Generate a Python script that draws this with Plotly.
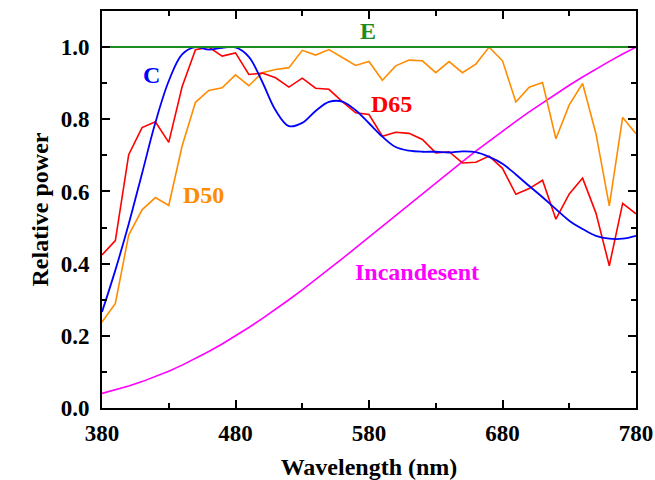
import plotly.graph_objects as go

wavelength = list(range(380, 781, 10))

d65 = [0.424, 0.464, 0.702, 0.777, 0.793, 0.736, 0.890, 0.993, 1.000, 0.975,
       0.984, 0.924, 0.928, 0.915, 0.889, 0.914, 0.886, 0.883, 0.849, 0.818,
       0.813, 0.753, 0.764, 0.761, 0.744, 0.707, 0.710, 0.679, 0.681, 0.698,
       0.664, 0.592, 0.608, 0.631, 0.523, 0.593, 0.637, 0.540, 0.394, 0.567,
       0.538]

d50 = [0.238, 0.290, 0.479, 0.549, 0.583, 0.561, 0.726, 0.847, 0.880, 0.887,
       0.923, 0.893, 0.929, 0.938, 0.943, 0.991, 0.978, 0.993, 0.971, 0.949,
       0.960, 0.908, 0.948, 0.964, 0.962, 0.929, 0.960, 0.929, 0.953, 1.000,
       0.962, 0.848, 0.889, 0.902, 0.746, 0.840, 0.899, 0.760, 0.560, 0.805,
       0.760]

illum_c = [0.266, 0.382, 0.510, 0.650, 0.791, 0.906, 0.980, 1.000, 0.993, 0.998,
           0.999, 0.973, 0.904, 0.825, 0.781, 0.790, 0.823, 0.848, 0.849, 0.825,
           0.789, 0.752, 0.723, 0.713, 0.710, 0.710, 0.708, 0.711, 0.709, 0.696,
           0.677, 0.647, 0.615, 0.584, 0.551, 0.519, 0.496, 0.477, 0.469, 0.469,
           0.477]

incandescent = [0.0405, 0.0500, 0.0609, 0.0731, 0.0869, 0.1021, 0.1188, 0.1369,
                0.1565, 0.1774, 0.1996, 0.2231, 0.2477, 0.2733, 0.3000, 0.3274,
                0.3556, 0.3845, 0.4138, 0.4435, 0.4735, 0.5037, 0.5340, 0.5642,
                0.5943, 0.6241, 0.6537, 0.6829, 0.7116, 0.7397, 0.7673, 0.7942,
                0.8204, 0.8458, 0.8704, 0.8943, 0.9172, 0.9393, 0.9605, 0.9807,
                1.0000]

illum_e = [1.0] * len(wavelength)

x_ticks = [380, 480, 580, 680, 780]
y_ticks = [0.0, 0.2, 0.4, 0.6, 0.8, 1.0]

FONT = "Liberation Serif"
GREEN = "#1E8C1E"
ORANGE = "#FF8C00"

fig = go.Figure()
fig.add_trace(go.Scatter(x=wavelength, y=incandescent, mode="lines",
                         line=dict(color="#FF00FF", width=1.6), name="Incandesent"))
fig.add_trace(go.Scatter(x=wavelength, y=d50, mode="lines",
                         line=dict(color=ORANGE, width=1.6), name="D50"))
fig.add_trace(go.Scatter(x=wavelength, y=d65, mode="lines",
                         line=dict(color="#FF0000", width=1.6), name="D65"))
fig.add_trace(go.Scatter(x=wavelength, y=illum_c, mode="lines",
                         line=dict(color="#0000FF", width=1.8, shape="spline", smoothing=1.0),
                         name="C"))
fig.add_trace(go.Scatter(x=wavelength, y=illum_e, mode="lines",
                         line=dict(color=GREEN, width=2), name="E"))

labels = [
    ("E", 579.5, 1.044, GREEN),
    ("C", 417, 0.922, "#0000FF"),
    ("D65", 597, 0.842, "#FF0000"),
    ("D50", 456, 0.590, ORANGE),
    ("Incandesent", 616, 0.377, "#FF00FF"),
]
for text, lx, ly, col in labels:
    fig.add_annotation(x=lx, y=ly, text=text, showarrow=False,
                       font=dict(family=FONT, size=24, color=col, weight="bold"))

axis_common = dict(
    showline=True, linecolor="black", linewidth=2, mirror="ticks",
    ticks="inside", ticklen=8, tickwidth=1.5, tickcolor="black",
    showgrid=False, zeroline=False, automargin=False,
    tickfont=dict(family=FONT, size=23, color="black", weight="bold"),
)

fig.update_layout(
    width=655, height=480,
    margin=dict(l=102, r=19, t=11, b=72),
    paper_bgcolor="white", plot_bgcolor="white",
    showlegend=False,
    xaxis=dict(range=[380, 780], tickvals=x_ticks, ticklabelstandoff=3,
               minor=dict(dtick=50, tick0=380, ticks="inside", ticklen=5, tickcolor="black", tickwidth=1.5),
               title=dict(text="Wavelength (nm)", standoff=18,
                          font=dict(family=FONT, size=24, color="black", weight="bold")),
               **axis_common),
    yaxis=dict(range=[0, 1.1], tickvals=y_ticks, tickformat=".1f", ticklabelstandoff=6,
               minor=dict(dtick=0.1, tick0=0, ticks="inside", ticklen=5, tickcolor="black", tickwidth=1.5),
               title=dict(text="Relative power", standoff=5,
                          font=dict(family=FONT, size=24, color="black", weight="bold")),
               **axis_common),
)

fig.write_html("out.html", config={"displayModeBar": False},
               post_script="document.body.style.margin='0';document.body.style.overflow='hidden';")
